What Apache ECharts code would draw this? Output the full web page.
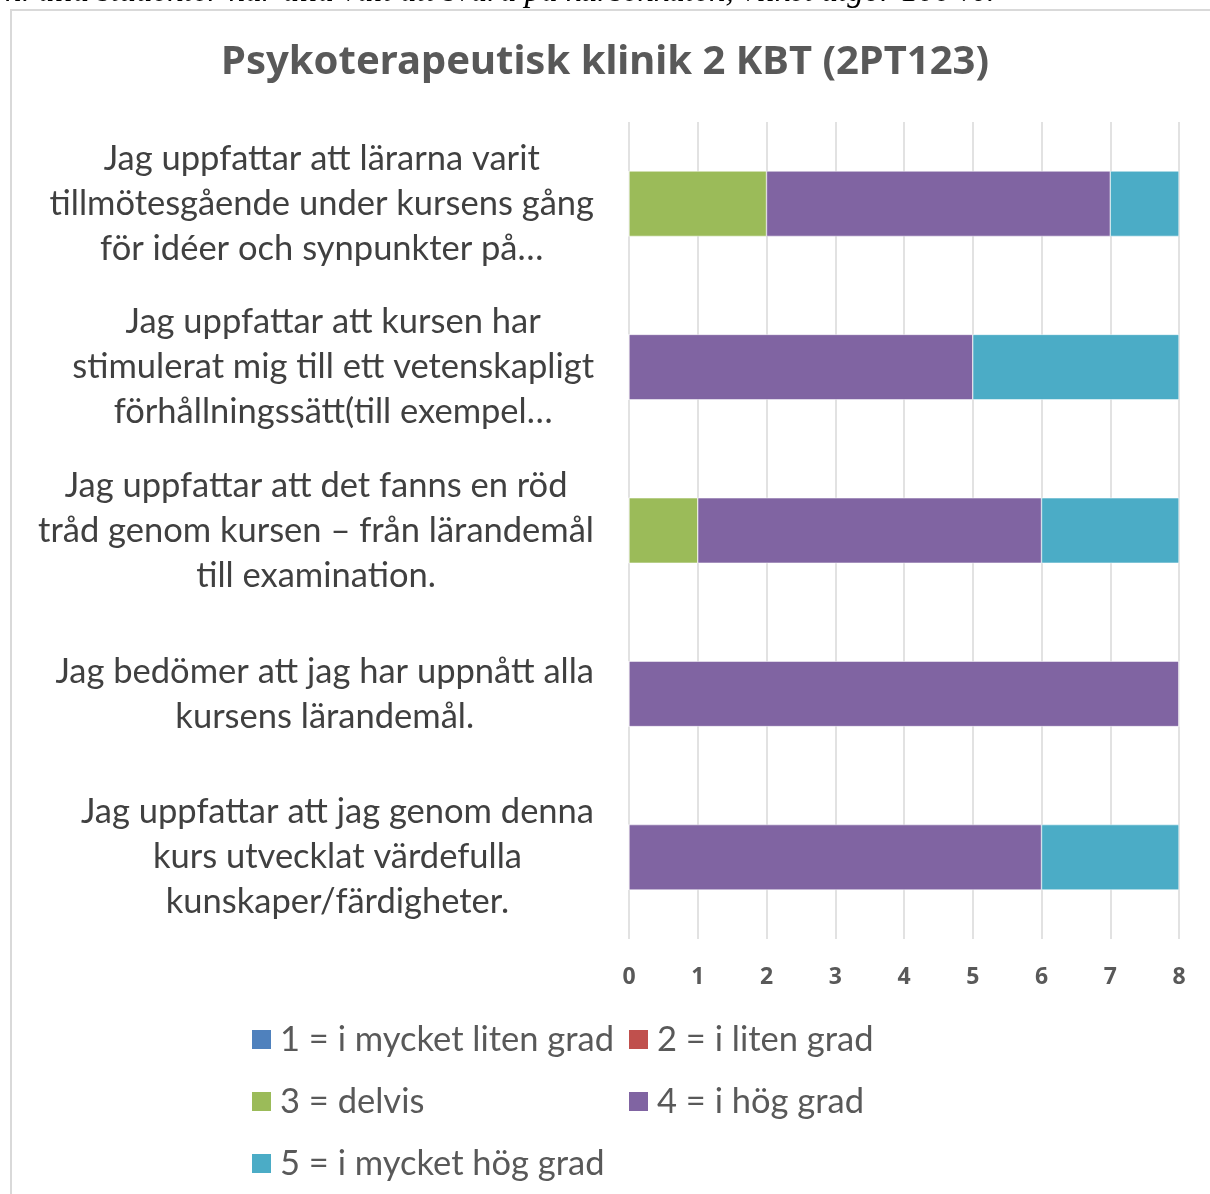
<!DOCTYPE html>
<html>
<head>
<meta charset="utf-8">
<script src="https://cdn.jsdelivr.net/npm/echarts@6/dist/echarts.min.js"></script>
<style>
  html, body { margin: 0; padding: 0; background: #fff; }
  #chart-container { width: 1210px; height: 1194px; }
</style>
</head>
<body>
<div id="chart-container"></div>
<script>
const categories = [
  'Jag uppfattar att lärarna varit\ntillmötesgående under kursens gång\nför idéer och synpunkter på…',
  'Jag uppfattar att kursen har\nstimulerat mig till ett vetenskapligt\nförhållningssätt(till exempel…',
  'Jag uppfattar att det fanns en röd\ntråd genom kursen – från lärandemål\ntill examination.',
  'Jag bedömer att jag har uppnått alla\nkursens lärandemål.',
  'Jag uppfattar att jag genom denna\nkurs utvecklat värdefulla\nkunskaper/färdigheter.',
];

const seriesNames = [
  '1 = i mycket liten grad',
  '2 = i liten grad',
  '3 = delvis',
  '4 = i hög grad',
  '5 = i mycket hög grad',
];

const veryLow = [0, 0, 0, 0, 0];
const low = [0, 0, 0, 0, 0];
const partly = [2, 0, 1, 0, 0];
const high = [5, 5, 5, 8, 6];
const veryHigh = [1, 3, 2, 0, 2];

const xTicks = [0, 1, 2, 3, 4, 5, 6, 7, 8];

const colors = ['#4f81bd', '#c0504d', '#9bbb59', '#8064a2', '#4bacc6'];

const dom = document.getElementById('chart-container');
const myChart = echarts.init(dom, null, { renderer: 'canvas' });

const seriesData = [veryLow, low, partly, high, veryHigh];

const legendText = { fontFamily: 'Lato', fontSize: 34.5, color: '#595959', padding: [0, 0, 0, 3] };

const option = {
  animation: false,
  color: colors,
  title: {
    text: 'Psykoterapeutisk klinik 2 KBT (2PT123)',
    left: 'center',
    top: 38,
    textStyle: {
      fontFamily: 'Noto Sans',
      fontWeight: 'bold',
      fontSize: 40,
      color: '#595959',
    },
  },
  graphic: [
    {
      type: 'rect',
      shape: { x: 11, y: 10, width: 1260, height: 1260 },
      style: { fill: 'none', stroke: '#d9d9d9', lineWidth: 2 },
      silent: true,
    },
    {
      type: 'text',
      x: 5,
      y: -8,
      style: {
        text: 'h. alla studenter har alla valt att svara på kursenkäten, vilket utgör 100 %.',
        fontFamily: 'Liberation Serif',
        fontStyle: 'italic',
        fontSize: 33,
        fill: '#000',
        verticalAlign: 'middle',
      },
    },
  ],
  legend: [
    {
      orient: 'vertical',
      left: 250,
      top: 1022,
      padding: 0,
      itemWidth: 21,
      itemHeight: 21,
      itemGap: 27,
      icon: 'rect',
      data: [seriesNames[0], seriesNames[2], seriesNames[4]],
      textStyle: legendText,
    },
    {
      orient: 'vertical',
      left: 627,
      top: 1022,
      padding: 0,
      itemWidth: 21,
      itemHeight: 21,
      itemGap: 27,
      icon: 'rect',
      data: [seriesNames[1], seriesNames[3]],
      textStyle: legendText,
    },
  ],
  grid: {
    left: 629,
    right: 31,
    top: 122,
    bottom: 255,
    containLabel: false,
  },
  xAxis: {
    type: 'value',
    min: xTicks[0],
    max: xTicks[xTicks.length - 1],
    interval: 1,
    axisLine: { show: false },
    axisTick: { show: false },
    splitLine: { lineStyle: { color: '#d9d9d9', width: 1.5 } },
    axisLabel: {
      margin: 27,
      fontFamily: 'Noto Sans',
      fontWeight: 'bold',
      fontSize: 23,
      color: '#595959',
    },
  },
  yAxis: {
    type: 'category',
    inverse: true,
    data: categories,
    axisLine: { show: false },
    axisTick: { show: false },
    axisLabel: {
      margin: 35,
      align: 'right',
      formatter: (value) => value.split('\n').map((l) => '{c|' + l + '}').join('\n'),
      rich: {
        c: {
          align: 'center',
          fontFamily: 'Lato',
          fontSize: 34.5,
          lineHeight: 45,
          color: '#404040',
        },
      },
    },
  },
  series: seriesNames.map((name, i) => ({
    name: name,
    type: 'bar',
    stack: 'total',
    barCategoryGap: '60%',
    itemStyle: { color: colors[i], borderColor: '#fff', borderWidth: 0.5 },
    data: seriesData[i],
  })),
};

myChart.setOption(option);
window.addEventListener('resize', myChart.resize);
</script>
</body>
</html>
